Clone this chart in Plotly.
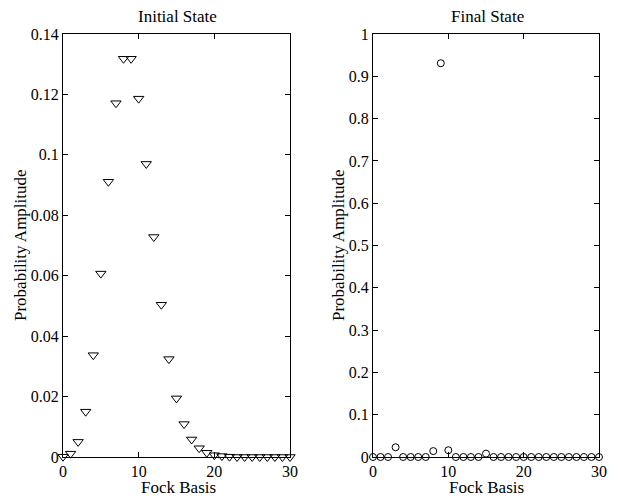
import plotly.graph_objects as go

fock = list(range(0, 31))
initial_amp = [0.0001, 0.0011, 0.0050, 0.0150, 0.0337, 0.0607, 0.0911, 0.1171, 0.1318, 0.1318,
               0.1186, 0.0970, 0.0728, 0.0504, 0.0324, 0.0194, 0.0109, 0.0058, 0.0029, 0.0014,
               0.0006, 0.0003, 0.0001, 0.0, 0.0, 0.0, 0.0, 0.0, 0.0, 0.0, 0.0]
final_amp = [0.0, 0.0, 0.0, 0.023, 0.0, 0.0, 0.0, 0.0, 0.014, 0.931,
             0.016, 0.0, 0.0, 0.0, 0.0, 0.008, 0.0, 0.0, 0.0, 0.0,
             0.0, 0.0, 0.0, 0.0, 0.0, 0.0, 0.0, 0.0, 0.0, 0.0, 0.0]
titles = ["Initial State", "Final State"]
x_label = "Fock Basis"
y_label = "Probability Amplitude"

W, H = 618, 498
FONT = "Liberation Serif"

fig = go.Figure()
fig.add_trace(go.Scatter(x=fock, y=initial_amp, mode="markers", xaxis="x", yaxis="y",
                         marker=dict(symbol="triangle-down-open", size=9, color="black",
                                     line=dict(width=1, color="black")),
                         cliponaxis=False, showlegend=False, hoverinfo="skip"))
fig.add_trace(go.Scatter(x=fock, y=final_amp, mode="markers", xaxis="x2", yaxis="y2",
                         marker=dict(symbol="circle-open", size=7, color="black",
                                     line=dict(width=1, color="black")),
                         cliponaxis=False, showlegend=False, hoverinfo="skip"))

def px_x(p):
    return p / W

def px_y(p):
    return 1 - p / H

ax_common = dict(showline=True, linecolor="black", linewidth=1, mirror="ticks",
                 ticks="inside", ticklen=5, tickwidth=1, tickcolor="black",
                 showgrid=False, zeroline=False, automargin=False,
                 tickfont=dict(family=FONT, size=16, color="black"))

ydom = [px_y(457), px_y(34)]
fig.update_layout(
    width=W, height=H,
    margin=dict(l=0, r=0, t=0, b=0),
    paper_bgcolor="white", plot_bgcolor="white",
    xaxis=dict(domain=[px_x(63), px_x(290)], range=[0, 30], tickvals=[0, 10, 20, 30],
               anchor="y", **ax_common),
    yaxis=dict(domain=ydom, range=[0, 0.14], tickvals=[0, 0.02, 0.04, 0.06, 0.08, 0.1, 0.12, 0.14],
               ticktext=["0", "0.02", "0.04", "0.06", "0.08", "0.1", "0.12", "0.14"],
               anchor="x", **ax_common),
    xaxis2=dict(domain=[px_x(373), px_x(599)], range=[0, 30], tickvals=[0, 10, 20, 30],
                anchor="y2", **ax_common),
    yaxis2=dict(domain=ydom, range=[0, 1], tickvals=[i / 10 for i in range(11)],
                ticktext=["0", "0.1", "0.2", "0.3", "0.4", "0.5", "0.6", "0.7", "0.8", "0.9", "1"],
                anchor="x2", **ax_common),
)

lab_font = dict(family=FONT, size=17, color="black")
anns = [
    dict(text=titles[0], x=px_x(177), y=px_y(17), xref="paper", yref="paper",
         showarrow=False, font=lab_font, xanchor="center", yanchor="middle"),
    dict(text=titles[1], x=px_x(487), y=px_y(17), xref="paper", yref="paper",
         showarrow=False, font=lab_font, xanchor="center", yanchor="middle"),
    dict(text=x_label, x=px_x(178), y=px_y(487), xref="paper", yref="paper",
         showarrow=False, font=lab_font, xanchor="center", yanchor="middle"),
    dict(text=x_label, x=px_x(486), y=px_y(487), xref="paper", yref="paper",
         showarrow=False, font=lab_font, xanchor="center", yanchor="middle"),
    dict(text=y_label, x=px_x(20), y=px_y(245), xref="paper", yref="paper", textangle=-90,
         showarrow=False, font=lab_font, xanchor="center", yanchor="middle"),
    dict(text=y_label, x=px_x(338), y=px_y(245), xref="paper", yref="paper", textangle=-90,
         showarrow=False, font=lab_font, xanchor="center", yanchor="middle"),
]
fig.update_layout(annotations=anns)

fig.write_html("out.html", config={"displayModeBar": False},
               post_script="document.body.style.margin='0';document.body.style.overflow='hidden';")
